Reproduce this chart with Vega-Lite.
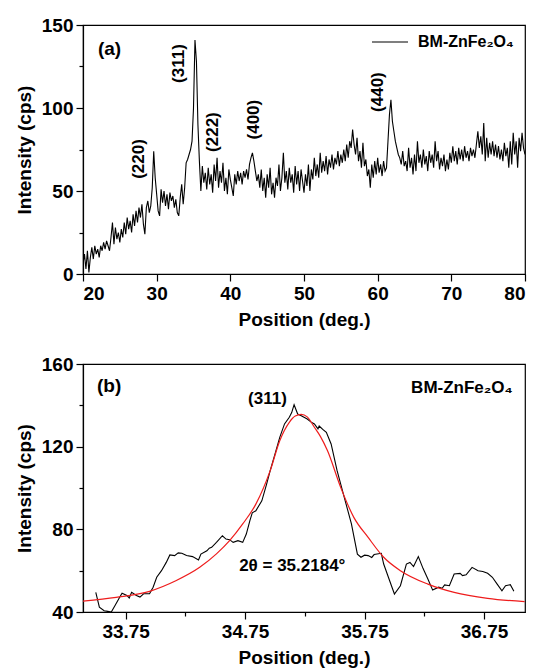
{
  "$schema": "https://vega.github.io/schema/vega-lite/v6.json",
  "padding": {"left": 14, "top": 15, "right": 6, "bottom": 2},
  "spacing": 24,
  "background": "white",
  "config": {
    "font": "Liberation Sans",
    "view": {"stroke": "black", "strokeWidth": 1.2},
    "axis": {"domainColor": "black", "tickColor": "black", "labelColor": "black", "titleColor": "black", "labelFont": "Liberation Sans", "titleFont": "Liberation Sans", "labelFontSize": 19, "labelFontWeight": "bold", "titleFontSize": 19, "titleFontWeight": "bold", "grid": false, "tickWidth": 1.2, "domainWidth": 1.2, "labelPadding": 3, "titlePadding": 7},
    "legend": {"labelFont": "Liberation Sans", "labelFontSize": 16, "labelFontWeight": "bold", "labelColor": "black", "padding": 0}
  },
  "datasets": {
    "xrd": [
      {"pos":20.0,"cps":6},{"pos":20.2,"cps":12},{"pos":20.4,"cps":3},{"pos":20.6,"cps":14},{"pos":20.8,"cps":1},{"pos":21.0,"cps":10},{"pos":21.2,"cps":16},{"pos":21.4,"cps":9},{"pos":21.6,"cps":17},{"pos":21.8,"cps":12},
      {"pos":22.0,"cps":15},{"pos":22.2,"cps":10},{"pos":22.4,"cps":17},{"pos":22.6,"cps":14},{"pos":22.8,"cps":19},{"pos":23.0,"cps":15},{"pos":23.2,"cps":20},{"pos":23.4,"cps":17},{"pos":23.6,"cps":14},{"pos":23.8,"cps":22},
      {"pos":24.0,"cps":31},{"pos":24.2,"cps":18},{"pos":24.4,"cps":28},{"pos":24.6,"cps":21},{"pos":24.8,"cps":25},{"pos":25.0,"cps":19},{"pos":25.2,"cps":27},{"pos":25.4,"cps":22},{"pos":25.6,"cps":31},{"pos":25.8,"cps":24},
      {"pos":26.0,"cps":34},{"pos":26.2,"cps":27},{"pos":26.4,"cps":32},{"pos":26.6,"cps":25},{"pos":26.8,"cps":36},{"pos":27.0,"cps":29},{"pos":27.2,"cps":38},{"pos":27.4,"cps":31},{"pos":27.6,"cps":40},{"pos":27.8,"cps":34},
      {"pos":28.0,"cps":42},{"pos":28.2,"cps":30},{"pos":28.4,"cps":24},{"pos":28.6,"cps":40},{"pos":28.8,"cps":44},{"pos":29.0,"cps":37},{"pos":29.2,"cps":41},{"pos":29.4,"cps":52},{"pos":29.6,"cps":74},{"pos":29.8,"cps":58},
      {"pos":30.0,"cps":48},{"pos":30.2,"cps":38},{"pos":30.4,"cps":35},{"pos":30.6,"cps":51},{"pos":30.8,"cps":43},{"pos":31.0,"cps":50},{"pos":31.2,"cps":41},{"pos":31.4,"cps":48},{"pos":31.6,"cps":39},{"pos":31.8,"cps":49},
      {"pos":32.0,"cps":44},{"pos":32.2,"cps":47},{"pos":32.4,"cps":40},{"pos":32.6,"cps":45},{"pos":32.8,"cps":37},{"pos":33.0,"cps":35},{"pos":33.2,"cps":46},{"pos":33.4,"cps":54},{"pos":33.6,"cps":42},{"pos":33.8,"cps":52},
      {"pos":34.0,"cps":67},{"pos":34.2,"cps":69},{"pos":34.4,"cps":72},{"pos":34.6,"cps":75},{"pos":34.8,"cps":80},{"pos":35.0,"cps":100},{"pos":35.2,"cps":141},{"pos":35.4,"cps":128},{"pos":35.6,"cps":90},{"pos":35.8,"cps":68},
      {"pos":36.0,"cps":50},{"pos":36.2,"cps":65},{"pos":36.4,"cps":55},{"pos":36.6,"cps":61},{"pos":36.8,"cps":51},{"pos":37.0,"cps":64},{"pos":37.2,"cps":54},{"pos":37.4,"cps":60},{"pos":37.6,"cps":49},{"pos":37.8,"cps":66},
      {"pos":38.0,"cps":56},{"pos":38.2,"cps":70},{"pos":38.4,"cps":52},{"pos":38.6,"cps":62},{"pos":38.8,"cps":55},{"pos":39.0,"cps":67},{"pos":39.2,"cps":50},{"pos":39.4,"cps":58},{"pos":39.6,"cps":48},{"pos":39.8,"cps":63},
      {"pos":40.0,"cps":57},{"pos":40.2,"cps":52},{"pos":40.4,"cps":47},{"pos":40.6,"cps":60},{"pos":40.8,"cps":54},{"pos":41.0,"cps":62},{"pos":41.2,"cps":56},{"pos":41.4,"cps":61},{"pos":41.6,"cps":54},{"pos":41.8,"cps":62},
      {"pos":42.0,"cps":58},{"pos":42.2,"cps":63},{"pos":42.4,"cps":57},{"pos":42.6,"cps":66},{"pos":42.8,"cps":70},{"pos":43.0,"cps":73},{"pos":43.2,"cps":68},{"pos":43.4,"cps":62},{"pos":43.6,"cps":56},{"pos":43.8,"cps":60},
      {"pos":44.0,"cps":52},{"pos":44.2,"cps":63},{"pos":44.4,"cps":50},{"pos":44.6,"cps":58},{"pos":44.8,"cps":46},{"pos":45.0,"cps":60},{"pos":45.2,"cps":52},{"pos":45.4,"cps":64},{"pos":45.6,"cps":48},{"pos":45.8,"cps":55},
      {"pos":46.0,"cps":46},{"pos":46.2,"cps":58},{"pos":46.4,"cps":53},{"pos":46.6,"cps":66},{"pos":46.8,"cps":50},{"pos":47.0,"cps":58},{"pos":47.2,"cps":73},{"pos":47.4,"cps":55},{"pos":47.6,"cps":62},{"pos":47.8,"cps":51},
      {"pos":48.0,"cps":64},{"pos":48.2,"cps":55},{"pos":48.4,"cps":60},{"pos":48.6,"cps":49},{"pos":48.8,"cps":65},{"pos":49.0,"cps":54},{"pos":49.2,"cps":62},{"pos":49.4,"cps":50},{"pos":49.6,"cps":63},{"pos":49.8,"cps":56},
      {"pos":50.0,"cps":49},{"pos":50.2,"cps":60},{"pos":50.4,"cps":53},{"pos":50.6,"cps":66},{"pos":50.8,"cps":50},{"pos":51.0,"cps":63},{"pos":51.2,"cps":57},{"pos":51.4,"cps":70},{"pos":51.6,"cps":59},{"pos":51.8,"cps":66},
      {"pos":52.0,"cps":58},{"pos":52.2,"cps":73},{"pos":52.4,"cps":61},{"pos":52.6,"cps":68},{"pos":52.8,"cps":62},{"pos":53.0,"cps":71},{"pos":53.2,"cps":60},{"pos":53.4,"cps":69},{"pos":53.6,"cps":64},{"pos":53.8,"cps":72},
      {"pos":54.0,"cps":63},{"pos":54.2,"cps":70},{"pos":54.4,"cps":66},{"pos":54.6,"cps":74},{"pos":54.8,"cps":65},{"pos":55.0,"cps":72},{"pos":55.2,"cps":67},{"pos":55.4,"cps":75},{"pos":55.6,"cps":68},{"pos":55.8,"cps":78},
      {"pos":56.0,"cps":70},{"pos":56.2,"cps":80},{"pos":56.4,"cps":76},{"pos":56.6,"cps":87},{"pos":56.8,"cps":78},{"pos":57.0,"cps":72},{"pos":57.2,"cps":82},{"pos":57.4,"cps":68},{"pos":57.6,"cps":74},{"pos":57.8,"cps":64},
      {"pos":58.0,"cps":79},{"pos":58.2,"cps":65},{"pos":58.4,"cps":69},{"pos":58.6,"cps":59},{"pos":58.8,"cps":63},{"pos":59.0,"cps":52},{"pos":59.2,"cps":66},{"pos":59.4,"cps":58},{"pos":59.6,"cps":68},{"pos":59.8,"cps":60},
      {"pos":60.0,"cps":70},{"pos":60.2,"cps":61},{"pos":60.4,"cps":66},{"pos":60.6,"cps":59},{"pos":60.8,"cps":68},{"pos":61.0,"cps":62},{"pos":61.2,"cps":64},{"pos":61.4,"cps":80},{"pos":61.6,"cps":96},{"pos":61.8,"cps":105},
      {"pos":62.0,"cps":92},{"pos":62.2,"cps":86},{"pos":62.4,"cps":80},{"pos":62.6,"cps":76},{"pos":62.8,"cps":72},{"pos":63.0,"cps":70},{"pos":63.2,"cps":66},{"pos":63.4,"cps":74},{"pos":63.6,"cps":65},{"pos":63.8,"cps":68},
      {"pos":64.0,"cps":62},{"pos":64.2,"cps":76},{"pos":64.4,"cps":64},{"pos":64.6,"cps":70},{"pos":64.8,"cps":60},{"pos":65.0,"cps":72},{"pos":65.2,"cps":62},{"pos":65.4,"cps":80},{"pos":65.6,"cps":67},{"pos":65.8,"cps":72},
      {"pos":66.0,"cps":64},{"pos":66.2,"cps":75},{"pos":66.4,"cps":66},{"pos":66.6,"cps":71},{"pos":66.8,"cps":62},{"pos":67.0,"cps":74},{"pos":67.2,"cps":67},{"pos":67.4,"cps":72},{"pos":67.6,"cps":64},{"pos":67.8,"cps":80},
      {"pos":68.0,"cps":68},{"pos":68.2,"cps":74},{"pos":68.4,"cps":63},{"pos":68.6,"cps":70},{"pos":68.8,"cps":65},{"pos":69.0,"cps":72},{"pos":69.2,"cps":62},{"pos":69.4,"cps":69},{"pos":69.6,"cps":63},{"pos":69.8,"cps":73},
      {"pos":70.0,"cps":67},{"pos":70.2,"cps":77},{"pos":70.4,"cps":68},{"pos":70.6,"cps":74},{"pos":70.8,"cps":66},{"pos":71.0,"cps":76},{"pos":71.2,"cps":69},{"pos":71.4,"cps":75},{"pos":71.6,"cps":68},{"pos":71.8,"cps":77},
      {"pos":72.0,"cps":70},{"pos":72.2,"cps":74},{"pos":72.4,"cps":68},{"pos":72.6,"cps":76},{"pos":72.8,"cps":71},{"pos":73.0,"cps":75},{"pos":73.2,"cps":70},{"pos":73.4,"cps":78},{"pos":73.6,"cps":86},{"pos":73.8,"cps":76},
      {"pos":74.0,"cps":83},{"pos":74.2,"cps":72},{"pos":74.4,"cps":91},{"pos":74.6,"cps":68},{"pos":74.8,"cps":82},{"pos":75.0,"cps":70},{"pos":75.2,"cps":79},{"pos":75.4,"cps":72},{"pos":75.6,"cps":80},{"pos":75.8,"cps":71},
      {"pos":76.0,"cps":78},{"pos":76.2,"cps":70},{"pos":76.4,"cps":77},{"pos":76.6,"cps":69},{"pos":76.8,"cps":75},{"pos":77.0,"cps":68},{"pos":77.2,"cps":79},{"pos":77.4,"cps":71},{"pos":77.6,"cps":76},{"pos":77.8,"cps":64},
      {"pos":78.0,"cps":80},{"pos":78.2,"cps":66},{"pos":78.4,"cps":85},{"pos":78.6,"cps":72},{"pos":78.8,"cps":80},{"pos":79.0,"cps":64},{"pos":79.2,"cps":82},{"pos":79.4,"cps":74},{"pos":79.6,"cps":85},{"pos":79.8,"cps":76},
      {"pos":80.0,"cps":72}
    ],
    "peaksA": [
      {"pos":27.58,"cps":69.3,"label":"(220)"},
      {"pos":33.0,"cps":126.8,"label":"(311)"},
      {"pos":37.6,"cps":85.5,"label":"(222)"},
      {"pos":43.2,"cps":93.0,"label":"(400)"},
      {"pos":60.1,"cps":109.6,"label":"(440)"}
    ],
    "scan": [
      {"pos":33.50,"cps":49.5},{"pos":33.53,"cps":42.3},{"pos":33.57,"cps":40.6},{"pos":33.60,"cps":40.3},{"pos":33.63,"cps":40.0},{"pos":33.66,"cps":43.0},{"pos":33.70,"cps":47.1},{"pos":33.72,"cps":49.1},{"pos":33.76,"cps":48.0},{"pos":33.78,"cps":46.8},
      {"pos":33.80,"cps":49.5},{"pos":33.84,"cps":48.0},{"pos":33.87,"cps":47.2},{"pos":33.90,"cps":48.8},{"pos":33.95,"cps":48.8},{"pos":33.98,"cps":52.0},{"pos":34.01,"cps":56.8},{"pos":34.05,"cps":60.0},{"pos":34.09,"cps":64.0},{"pos":34.12,"cps":67.6},
      {"pos":34.16,"cps":67.3},{"pos":34.19,"cps":68.6},{"pos":34.22,"cps":68.4},{"pos":34.26,"cps":67.3},{"pos":34.31,"cps":66.8},{"pos":34.36,"cps":65.2},{"pos":34.38,"cps":68.0},{"pos":34.43,"cps":69.6},{"pos":34.45,"cps":70.9},{"pos":34.47,"cps":71.3},
      {"pos":34.51,"cps":73.7},{"pos":34.56,"cps":76.9},{"pos":34.59,"cps":75.3},{"pos":34.62,"cps":75.0},{"pos":34.65,"cps":73.7},{"pos":34.69,"cps":74.5},{"pos":34.73,"cps":73.7},{"pos":34.76,"cps":77.7},{"pos":34.79,"cps":84.2},{"pos":34.81,"cps":88.0},
      {"pos":34.84,"cps":89.0},{"pos":34.89,"cps":93.8},{"pos":34.93,"cps":101.9},{"pos":34.96,"cps":108.4},{"pos":35.00,"cps":116.4},{"pos":35.04,"cps":124.5},{"pos":35.08,"cps":131.0},{"pos":35.12,"cps":134.2},{"pos":35.14,"cps":136.5},{"pos":35.16,"cps":140.3},
      {"pos":35.19,"cps":135.8},{"pos":35.22,"cps":135.0},{"pos":35.27,"cps":133.4},{"pos":35.30,"cps":132.0},{"pos":35.33,"cps":131.0},{"pos":35.36,"cps":128.6},{"pos":35.37,"cps":130.0},{"pos":35.40,"cps":128.4},{"pos":35.43,"cps":126.9},{"pos":35.47,"cps":121.3},
      {"pos":35.52,"cps":108.4},{"pos":35.58,"cps":95.5},{"pos":35.64,"cps":82.6},{"pos":35.69,"cps":68.0},{"pos":35.72,"cps":66.5},{"pos":35.75,"cps":67.5},{"pos":35.78,"cps":67.3},{"pos":35.81,"cps":66.4},{"pos":35.83,"cps":67.8},{"pos":35.89,"cps":68.4},
      {"pos":35.91,"cps":63.2},{"pos":35.96,"cps":55.1},{"pos":36.00,"cps":48.7},{"pos":36.05,"cps":52.7},{"pos":36.10,"cps":63.2},{"pos":36.13,"cps":64.0},{"pos":36.16,"cps":62.0},{"pos":36.20,"cps":66.8},{"pos":36.24,"cps":61.0},{"pos":36.28,"cps":56.0},
      {"pos":36.32,"cps":50.6},{"pos":36.37,"cps":52.0},{"pos":36.40,"cps":51.5},{"pos":36.42,"cps":53.1},{"pos":36.46,"cps":52.7},{"pos":36.50,"cps":58.4},{"pos":36.55,"cps":58.7},{"pos":36.57,"cps":57.6},{"pos":36.60,"cps":58.0},{"pos":36.65,"cps":61.6},
      {"pos":36.70,"cps":60.0},{"pos":36.74,"cps":59.6},{"pos":36.78,"cps":58.7},{"pos":36.82,"cps":56.8},{"pos":36.86,"cps":53.5},{"pos":36.90,"cps":50.3},{"pos":36.93,"cps":52.7},{"pos":36.97,"cps":53.2},{"pos":37.00,"cps":50.0}
    ],
    "fit": [
      {"pos":33.39,"cps":45.2},{"pos":33.67,"cps":47.1},{"pos":33.95,"cps":50.0},{"pos":34.17,"cps":55.1},{"pos":34.37,"cps":61.6},{"pos":34.51,"cps":68.1},{"pos":34.62,"cps":74.5},{"pos":34.73,"cps":82.6},
      {"pos":34.84,"cps":92.2},{"pos":34.96,"cps":108.4},{"pos":35.04,"cps":122.9},{"pos":35.12,"cps":131.8},{"pos":35.17,"cps":134.8},{"pos":35.22,"cps":135.6},{"pos":35.27,"cps":134.4},{"pos":35.33,"cps":129.4},
      {"pos":35.38,"cps":125.0},{"pos":35.44,"cps":118.0},{"pos":35.55,"cps":100.3},{"pos":35.66,"cps":85.8},{"pos":35.78,"cps":76.1},{"pos":35.91,"cps":66.5},{"pos":36.05,"cps":60.0},{"pos":36.28,"cps":53.5},
      {"pos":36.50,"cps":49.5},{"pos":36.78,"cps":46.6},{"pos":37.09,"cps":45.0}
    ]
  },
  "vconcat": [
    {
      "width": 442,
      "height": 249,
      "layer": [
        {
          "data": {"name": "xrd"},
          "mark": {"type": "line", "strokeWidth": 1.1, "clip": true},
          "encoding": {
            "x": {"field": "pos", "type": "quantitative", "scale": {"domain": [20, 80], "nice": false, "zero": false},
              "axis": {"title": "Position (deg.)", "values": [20,25,30,35,40,45,50,55,60,65,70,75,80],
                "labelExpr": "datum.value % 10 === 0 ? datum.label : ''",
                "tickSize": {"condition": {"test": "datum.value % 10 === 0", "value": 7}, "value": 4}}},
            "y": {"field": "cps", "type": "quantitative", "scale": {"domain": [0, 150], "nice": false},
              "axis": {"title": "Intensity (cps)", "values": [0,25,50,75,100,125,150],
                "labelExpr": "datum.value % 50 === 0 ? datum.label : ''",
                "tickSize": {"condition": {"test": "datum.value % 50 === 0", "value": 7}, "value": 4}}},
            "color": {"datum": "BM-ZnFe₂O₄", "type": "nominal", "scale": {"range": ["black"]},
              "legend": {"title": null, "orient": "none", "legendX": 288, "legendY": -2, "symbolType": "stroke", "symbolSize": 1296, "symbolStrokeWidth": 1.2, "labelOffset": 9, "labelLimit": 300}}
          }
        },
        {
          "data": {"name": "peaksA"},
          "mark": {"type": "text", "angle": 270, "fontSize": 17, "fontWeight": "bold", "font": "Liberation Sans", "color": "black"},
          "encoding": {
            "x": {"field": "pos", "type": "quantitative"},
            "y": {"field": "cps", "type": "quantitative"},
            "text": {"field": "label"}
          }
        },
        {
          "data": {"values": [{"pos": 22.03, "cps": 135.5, "label": "(a)"}]},
          "mark": {"type": "text", "align": "left", "fontSize": 19, "fontWeight": "bold", "font": "Liberation Sans", "color": "black"},
          "encoding": {
            "x": {"field": "pos", "type": "quantitative"},
            "y": {"field": "cps", "type": "quantitative"},
            "text": {"field": "label"}
          }
        }
      ]
    },
    {
      "width": 442,
      "height": 248,
      "layer": [
        {
          "data": {"name": "scan"},
          "mark": {"type": "line", "color": "black", "strokeWidth": 1.1, "clip": true},
          "encoding": {
            "x": {"field": "pos", "type": "quantitative", "scale": {"domain": [33.393, 37.093], "nice": false, "zero": false},
              "axis": {"title": "Position (deg.)", "values": [33.75,34.25,34.75,35.25,35.75,36.25,36.75], "format": ".2f",
                "labelExpr": "abs(datum.value - round(datum.value - 0.75) - 0.75) < 0.01 ? datum.label : ''",
                "tickSize": {"condition": {"test": "abs(datum.value - round(datum.value - 0.75) - 0.75) < 0.01", "value": 7}, "value": 4}}},
            "y": {"field": "cps", "type": "quantitative", "scale": {"domain": [40, 160], "nice": false, "zero": false},
              "axis": {"title": "Intensity (cps)", "values": [40,60,80,100,120,140,160],
                "labelExpr": "datum.value % 40 === 0 ? datum.label : ''",
                "tickSize": {"condition": {"test": "datum.value % 40 === 0", "value": 7}, "value": 4}}}
          }
        },
        {
          "data": {"name": "fit"},
          "mark": {"type": "line", "color": "#ee1c1c", "strokeWidth": 1.2, "interpolate": "monotone", "clip": true},
          "encoding": {
            "x": {"field": "pos", "type": "quantitative"},
            "y": {"field": "cps", "type": "quantitative"}
          }
        },
        {
          "data": {"values": [
            {"pos": 33.51, "cps": 149.3, "label": "(b)"}
          ]},
          "mark": {"type": "text", "align": "left", "fontSize": 19, "fontWeight": "bold", "font": "Liberation Sans", "color": "black"},
          "encoding": {
            "x": {"field": "pos", "type": "quantitative"},
            "y": {"field": "cps", "type": "quantitative"},
            "text": {"field": "label"}
          }
        },
        {
          "data": {"values": [
            {"pos": 34.70, "cps": 62.4, "label": "2θ = 35.2184°"}
          ]},
          "mark": {"type": "text", "align": "left", "fontSize": 17, "fontWeight": "bold", "font": "Liberation Sans", "color": "black"},
          "encoding": {
            "x": {"field": "pos", "type": "quantitative"},
            "y": {"field": "cps", "type": "quantitative"},
            "text": {"field": "label"}
          }
        },
        {
          "data": {"values": [
            {"pos": 34.937, "cps": 143.0, "label": "(311)"}
          ]},
          "mark": {"type": "text", "align": "center", "fontSize": 17, "fontWeight": "bold", "font": "Liberation Sans", "color": "black"},
          "encoding": {
            "x": {"field": "pos", "type": "quantitative"},
            "y": {"field": "cps", "type": "quantitative"},
            "text": {"field": "label"}
          }
        },
        {
          "data": {"values": [
            {"pos": 36.99, "cps": 148.4, "label": "BM-ZnFe₂O₄"}
          ]},
          "mark": {"type": "text", "align": "right", "fontSize": 17, "fontWeight": "bold", "font": "Liberation Sans", "color": "black"},
          "encoding": {
            "x": {"field": "pos", "type": "quantitative"},
            "y": {"field": "cps", "type": "quantitative"},
            "text": {"field": "label"}
          }
        }
      ]
    }
  ]
}
